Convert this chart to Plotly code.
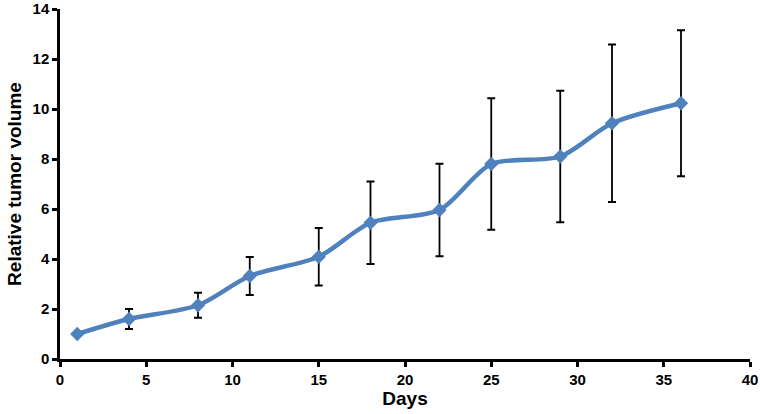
import plotly.graph_objects as go

days = [1, 4, 8, 11, 15, 18, 22, 25, 29, 32, 36]
volume = [1.0, 1.6, 2.15, 3.32, 4.09, 5.45, 5.96, 7.8, 8.1, 9.43, 10.23]
error = [0.0, 0.4, 0.5, 0.76, 1.15, 1.65, 1.85, 2.63, 2.63, 3.15, 2.92]

fig = go.Figure()
fig.add_trace(go.Scatter(
    x=days, y=volume,
    mode="lines+markers",
    line=dict(color="#4F81BD", width=4.5, shape="spline", smoothing=0.8),
    marker=dict(symbol="diamond", size=11, color="#4F81BD"),
    error_y=dict(type="data", array=error, visible=True, color="black", thickness=1.8, width=4),
    showlegend=False,
))

font_family = "Liberation Sans"
fig.update_layout(
    width=760, height=414,
    margin=dict(l=60, r=10, t=9, b=55, autoexpand=False),
    plot_bgcolor="white", paper_bgcolor="white",
    font=dict(family=font_family, color="black", size=14),
    xaxis=dict(
        range=[0, 40], tickmode="linear", tick0=0, dtick=5,
        showline=True, linecolor="black", linewidth=2.5,
        ticks="outside", ticklen=5, tickwidth=2.5, tickcolor="black",
        showgrid=False, zeroline=False, automargin=False,
        tickfont=dict(size=15, family=font_family, weight=700, color="black"),
        title=dict(text="Days", font=dict(size=19, family=font_family, weight=700), standoff=0),
    ),
    yaxis=dict(
        range=[0, 14], tickmode="linear", tick0=0, dtick=2,
        showline=True, linecolor="black", linewidth=2.5,
        ticks="outside", ticklen=5, tickwidth=2.5, tickcolor="black",
        showgrid=False, zeroline=False, automargin=False,
        tickfont=dict(size=15, family=font_family, weight=700, color="black"),
        title=dict(text="Relative tumor volume", font=dict(size=19, family=font_family, weight=700), standoff=6),
    ),
)

fig.write_html("out.html", config={"displayModeBar": False},
               post_script="document.body.style.margin='0';")
